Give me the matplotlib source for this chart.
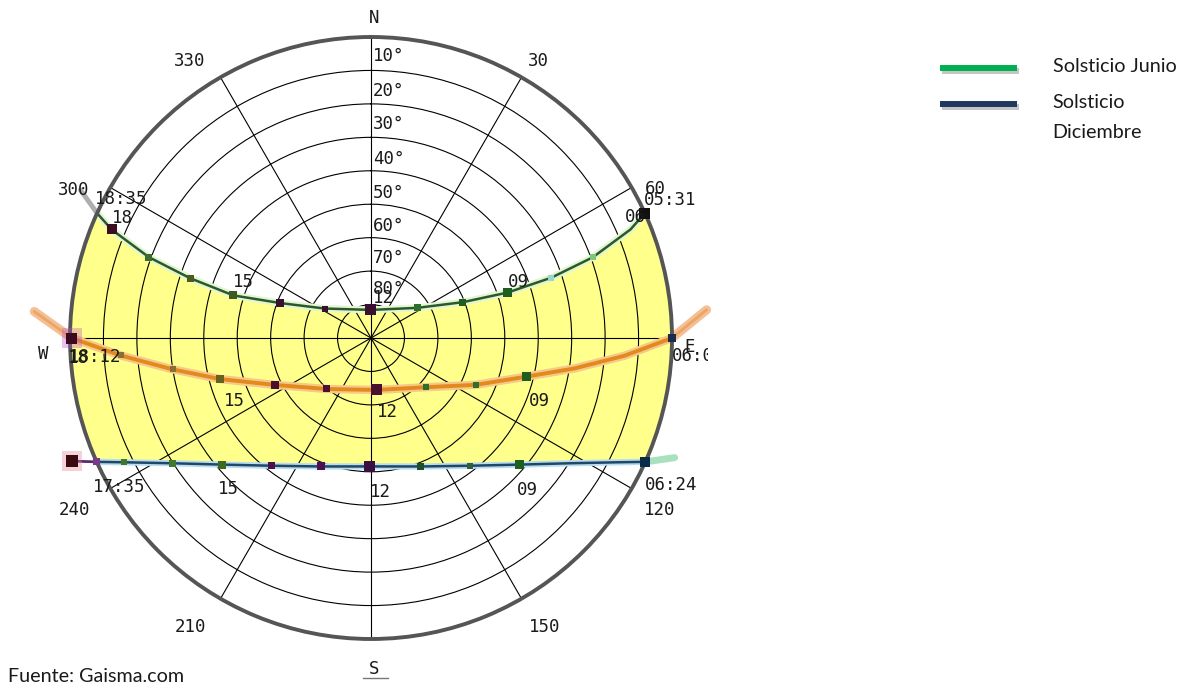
import numpy as np
import matplotlib.pyplot as plt
from matplotlib.lines import Line2D
from matplotlib.transforms import Bbox
import matplotlib.patheffects as pe

W, H = 1185, 687

# sun positions: azimuth (deg, clockwise from N) and altitude (deg)
june_hours = ['05:31', '06', '07', '08', '09', '10', '11', '12', '13', '14', '15', '16', '17', '18', '18:35']
june_az = [65.5, 67.3, 70.0, 71.5, 71.6, 68.7, 56.9, 0.0, 302.5, 291.0, 287.2, 288.3, 290.0, 292.7, 294.5]
june_alt = [0.0, 5.9, 19.4, 33.1, 46.9, 60.5, 73.5, 81.6, 73.6, 60.8, 46.9, 33.0, 19.3, 5.9, 0.0]

equinox_hours = ['06:0', '07', '08', '09', '10', '11', '12', '13', '14', '15', '16', '17', '18:12']
equinox_az = [90.0, 94.0, 98.5, 104.0, 114.0, 132.0, 174.5, 221.0, 244.0, 254.8, 261.0, 266.0, 270.0]
equinox_alt = [0.0, 14.0, 28.5, 42.2, 55.6, 68.0, 74.4, 69.8, 58.0, 43.2, 30.0, 15.0, 0.5]

december_hours = ['06:24', '07', '08', '09', '10', '11', '12', '13', '14', '15', '16', '17', '17:35']
december_az = [114.3, 116.7, 122.3, 130.4, 142.1, 158.8, 180.5, 201.2, 217.9, 229.6, 237.7, 243.3, 245.7]
december_alt = [0.0, 7.3, 19.9, 31.6, 41.6, 48.8, 51.6, 48.8, 41.6, 31.6, 19.9, 7.3, 0.0]

# short stretches below the horizon
june_tail_az, june_tail_alt = [294.5, 297.0], [0.0, -7.5]
equinox_tail_w_az, equinox_tail_w_alt = [270.0, 274.5], [0.5, -11.0]
equinox_tail_e_az, equinox_tail_e_alt = [90.0, 85.2], [0.0, -10.7]
december_tail_w_az, december_tail_w_alt = [245.7, 247.6], [0.0, -6.6]
december_tail_e_az, december_tail_e_alt = [114.3, 111.5], [0.0, -7.6]

# marker look per hour point (0 = no marker)
june_mk_px = [11, 0, 6, 6, 9, 7, 7, 11, 6, 8, 8, 7, 7, 10, 0]
june_mk_col = ['#111111', '#6dbe6d', '#7cc77c', '#9ad6d0', '#1e5e1e', '#1e5e1e', '#2e6e2e', '#3a1030',
               '#3a1030', '#3a1030', '#3d5a20', '#4a5a20', '#3d6b2a', '#3a1020', '#3a1020']
equinox_mk_px = [8, 0, 0, 9, 6, 6, 11, 7, 8, 8, 6, 6, 11]
equinox_mk_col = ['#1a2a4a', '#9ac060', '#9ac060', '#1e5e1e', '#2e6e2e', '#2e6e2e', '#4a1030', '#4a1030',
                  '#4a1030', '#6a6020', '#8a7030', '#8a7030', '#3a0a20']
december_mk_px = [10, 0, 0, 9, 6, 7, 11, 8, 7, 8, 7, 6, 7]
december_mk_col = ['#0a2a4a', '#3e7a2e', '#3e7a2e', '#1e5e1e', '#2e5e3e', '#1e4e2e', '#3a1040', '#4a1050',
                   '#4a1050', '#3e6a1e', '#3e7a2e', '#3e7a2e', '#7a3a8a']

alt_rings = [10, 20, 30, 40, 50, 60, 70, 80]
az_spokes = list(range(0, 360, 30))


def to_polar(az, alt):
    return np.deg2rad(np.asarray(az, dtype=float)), 90.0 - np.asarray(alt, dtype=float)


def path(az, alt, **kw):
    t, r = to_polar(az, alt)
    ax.plot(t, r, solid_capstyle='round', solid_joinstyle='round', **kw)


def markers(az, alt, px, cols):
    px = np.asarray(px, dtype=float)
    keep = px > 0
    t, r = to_polar(az, alt)
    ax.scatter(t[keep], r[keep], s=(px[keep] * 0.72) ** 2, c=np.asarray(cols)[keep], marker='s',
               linewidths=0, zorder=4, clip_on=False)


fig = plt.figure(figsize=(W / 100, H / 100), dpi=100)
ax = fig.add_axes([70 / W, 48 / H, 602 / W, 602 / H], projection='polar')
ax.set_theta_zero_location('N')
ax.set_theta_direction(-1)

# daylight band between the two solstice paths; the two points beyond the
# horizon close the shape and the circular frame clips it
fill_t, fill_r = to_polar(june_az + [270.0] + december_az[::-1] + [90.0],
                          june_alt + [-45.0] + december_alt[::-1] + [-45.0])
ax.fill(fill_t, fill_r, color='#ffff8c', lw=0, zorder=1)

# below-horizon stubs
path(june_tail_az, june_tail_alt, color='#9a9a9a', lw=3.5, alpha=0.8, zorder=2, clip_on=False)
for taz, talt in [(equinox_tail_w_az, equinox_tail_w_alt), (equinox_tail_e_az, equinox_tail_e_alt)]:
    path(taz, talt, color='#f3b888', lw=6.5, alpha=0.9, zorder=2, clip_on=False)
    path(taz, talt, color='#e89a50', lw=2.0, alpha=0.7, zorder=2.1, clip_on=False)
path(december_tail_w_az, december_tail_w_alt, color='#5a2a6a', lw=2.0, zorder=2, clip_on=False)
path(december_tail_e_az, december_tail_e_alt, color='#a8e0c0', lw=5, zorder=2, clip_on=False)

# sun paths
path(june_az, june_alt, color='#e4f5d4', lw=5.0, zorder=2)
path(june_az, june_alt, color='#2a5a2a', lw=1.8, zorder=2.2)
path(equinox_az, equinox_alt, color='#f5c98a', lw=6.0, zorder=2)
path(equinox_az, equinox_alt, color='#e3891e', lw=2.8, zorder=2.2)
path(december_az, december_alt, color='#b9dcef', lw=4.5, zorder=2)
path(december_az, december_alt, color='#1f4868', lw=1.8, zorder=2.2)

# glows around the horizon squares
for gaz, galt, gcol in [(equinox_az[-1], equinox_alt[-1], '#c050c0'),
                        (december_tail_w_az[-1], december_tail_w_alt[-1], '#e08090')]:
    gt, gr = to_polar([gaz], [galt])
    ax.scatter(gt, gr, s=200, c=gcol, alpha=0.35, marker='s', linewidths=0, zorder=3, clip_on=False)

markers(june_az, june_alt, june_mk_px, june_mk_col)
markers(equinox_az, equinox_alt, equinox_mk_px, equinox_mk_col)
markers(december_az, december_alt, december_mk_px, december_mk_col)
markers(december_tail_w_az[-1:], december_tail_w_alt[-1:], [12], ['#3a0a10'])

ax.set_xticks(np.deg2rad(az_spokes))
ax.set_xticklabels([''] * len(az_spokes))
ax.set_yticks(alt_rings)
ax.set_yticklabels([''] * len(alt_rings))
ax.grid(True, color='black', lw=0.8)
ax.spines['polar'].set_linewidth(2.8)
ax.spines['polar'].set_color('#555555')
ax.set_xlim(0, 2 * np.pi)
ax.set_ylim(0, 90)


def label(x, y, s, ha='center', **kw):
    return fig.text(x / W, 1 - y / H, s, ha=ha, va='center', **kw)


mono = dict(family='DejaVu Sans Mono', fontsize=12.5, color='#1a1a1a')

for x, y, s in [(374, 18, 'N'), (374, 669, 'S'), (43, 354, 'W'), (690, 347, 'E'),
                (190, 61, '330'), (538, 61, '30'), (74, 190, '300'), (655, 189, '60'),
                (74, 510, '240'), (660, 510, '120'), (190, 627, '210'), (545, 627, '150')]:
    label(x, y, s, **mono)
fig.add_artist(Line2D([363 / W, 388 / W], [1 - 678 / H] * 2, color='#777777', lw=1))

for a, y in zip(alt_rings, [56, 91, 124, 159, 193, 226, 258, 289]):
    label(373, y, f'{a}°', ha='left', **mono)

# hour and sunrise / sunset labels
for x, y, s in [(121, 199, june_hours[-1]), (122, 218, june_hours[13]), (243, 282, june_hours[10]),
                (383, 298, june_hours[7]), (518, 282, june_hours[4]), (635, 217, june_hours[1]),
                (670, 200, june_hours[0]),
                (95, 357, equinox_hours[-1]), (78, 358, '18'), (234, 401, equinox_hours[9]),
                (387, 412, equinox_hours[6]), (539, 401, equinox_hours[3]),
                (119, 487, december_hours[-1]), (228, 489, december_hours[9]),
                (380, 492, december_hours[6]), (527, 490, december_hours[3]),
                (671, 485, december_hours[0])]:
    label(x, y, s, **mono)
t_e = label(672, 356, '06:00', ha='left', **mono)
t_e.set_clip_box(Bbox.from_extents(0, 0, 708, H))
t_e.set_clip_on(True)

# legend
shadow = [pe.SimpleLineShadow(offset=(1.5, -2), shadow_color='#808080', alpha=0.45), pe.Normal()]
fig.add_artist(Line2D([940 / W, 1017 / W], [1 - 68 / H] * 2, color='#00b050', lw=4.3,
                      solid_capstyle='butt', path_effects=shadow))
fig.add_artist(Line2D([940 / W, 1017 / W], [1 - 104 / H] * 2, color='#1f3a5f', lw=4.3,
                      solid_capstyle='butt', path_effects=shadow))
sans = dict(family='Lato', fontsize=14.2, color='#1a1a1a')
label(1053, 67, 'Solsticio Junio', ha='left', **sans)
label(1052, 103, 'Solsticio', ha='left', **sans)
label(1052, 132, 'Diciembre', ha='left', **sans)
label(8, 676, 'Fuente: Gaisma.com', ha='left', **sans)

fig.savefig('out.png', dpi=100, facecolor='white')
